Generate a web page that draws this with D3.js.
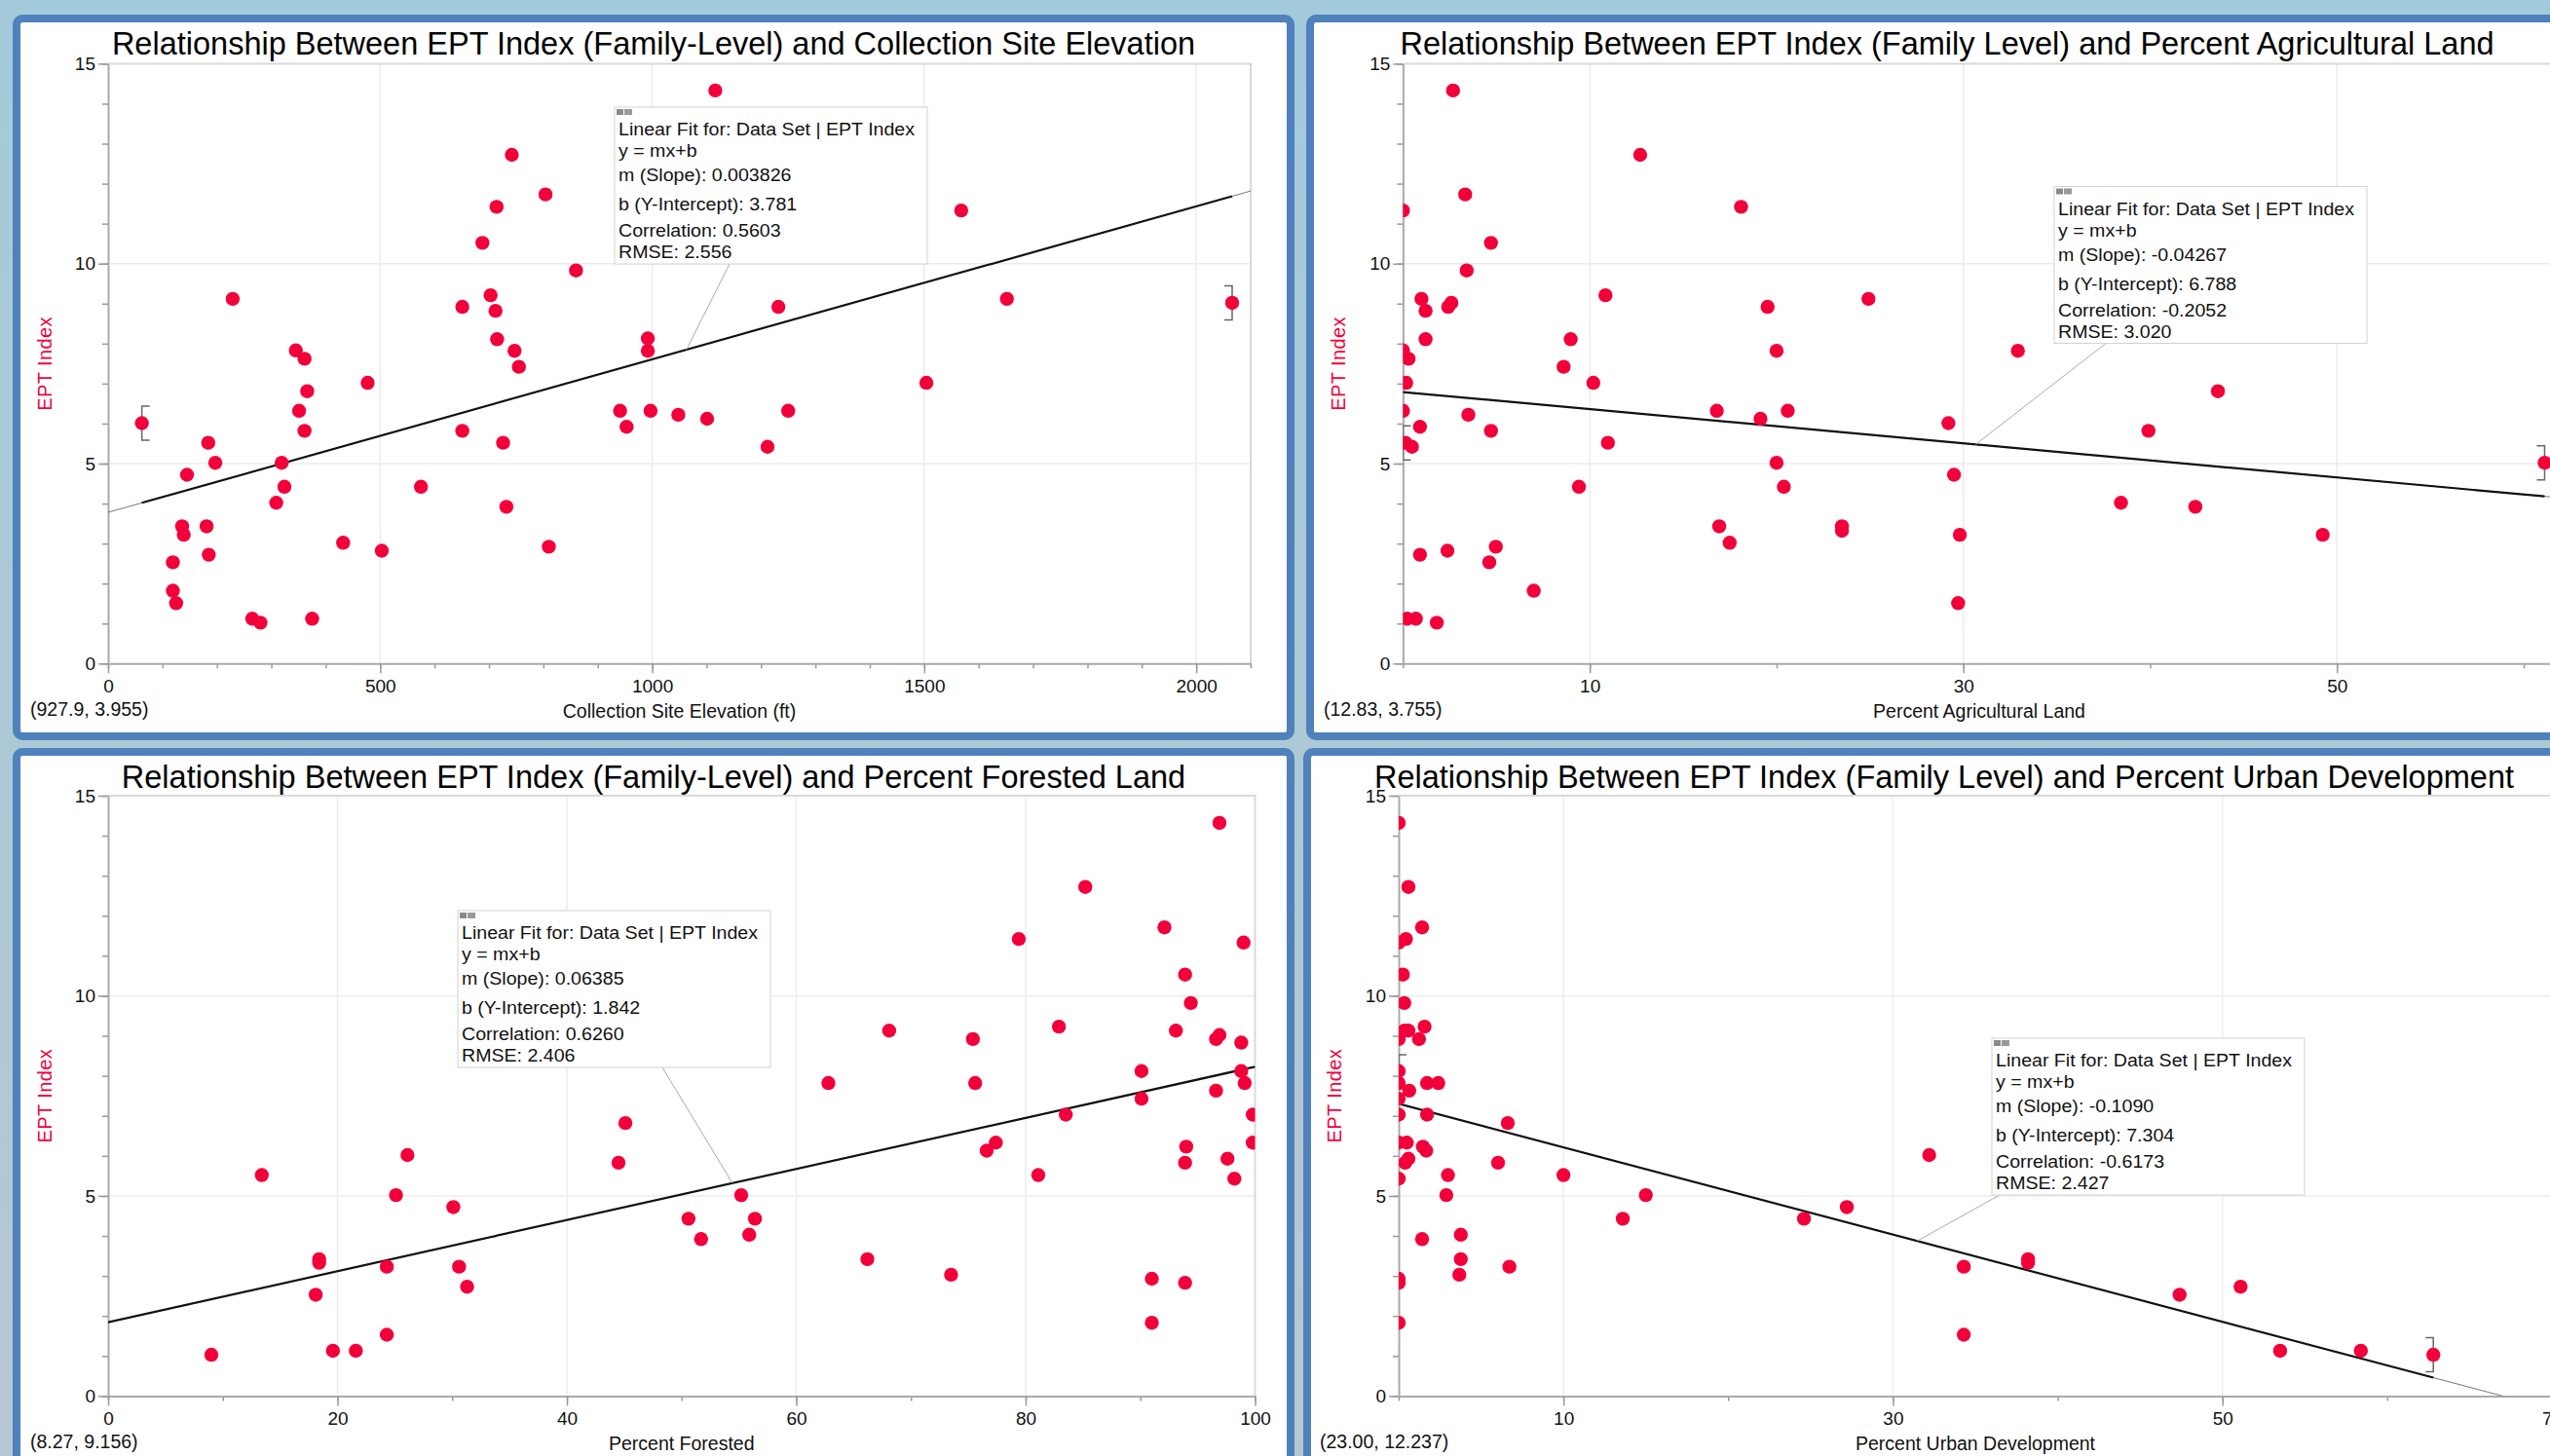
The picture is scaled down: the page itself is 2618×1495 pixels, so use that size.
<!DOCTYPE html>
<html>
<head>
<meta charset="utf-8">
<script src="https://cdn.jsdelivr.net/npm/d3@7"></script>
<style>
  html, body { margin: 0; padding: 0; overflow: hidden; }
  svg { display: block; font-family: "Liberation Sans", Arial, sans-serif; }
</style>
</head>
<body>
<div id="chart"></div>
<script>
/* DATA */
// [x, EPT index]
const elevation = [[1116,14.33],[742,12.72],[804,11.73],[714,11.42],[1568,11.33],[688,10.52],[860,9.83],[229,9.12],[1652,9.12],[2066,9.02],[703,9.21],[651,8.92],[712,8.82],[1232,8.92],[715,8.11],[992,8.13],[992,7.82],[747,7.82],[345,7.83],[361,7.62],[755,7.42],[477,7.02],[1504,7.02],[366,6.81],[941,6.32],[997,6.32],[1250,6.32],[351,6.32],[1048,6.22],[1101,6.12],[62,6.01],[953,5.92],[361,5.82],[651,5.82],[184,5.52],[726,5.52],[1212,5.42],[197,5.02],[319,5.02],[145,4.72],[324,4.42],[575,4.42],[309,4.02],[732,3.92],[136,3.43],[181,3.43],[139,3.22],[432,3.02],[503,2.82],[810,2.92],[185,2.72],[119,2.53],[119,1.82],[125,1.51],[265,1.12],[280,1.02],[375,1.12]];

const agricultural = [[2.68,14.33],[12.70,12.72],[3.33,11.73],[0,11.33],[18.10,11.42],[4.71,10.52],[3.41,9.83],[0.99,9.12],[10.84,9.21],[24.92,9.12],[2.59,9.02],[2.42,8.92],[1.21,8.82],[19.52,8.92],[1.21,8.11],[8.98,8.11],[0,7.83],[20.0,7.82],[32.92,7.82],[0.30,7.62],[8.60,7.42],[0.17,7.02],[10.19,7.02],[43.63,6.81],[0,6.32],[16.80,6.32],[20.60,6.32],[3.50,6.22],[19.14,6.12],[29.20,6.01],[0.91,5.92],[4.71,5.82],[39.91,5.82],[0.13,5.52],[10.97,5.52],[0.48,5.42],[20.0,5.02],[61.12,5.02],[29.50,4.72],[9.42,4.42],[20.39,4.42],[38.44,4.02],[42.42,3.92],[16.93,3.43],[23.50,3.43],[23.50,3.32],[17.49,3.02],[29.81,3.22],[49.24,3.22],[4.97,2.92],[2.38,2.82],[0.91,2.72],[4.62,2.53],[7.0,1.82],[29.72,1.51],[0.22,1.12],[0.69,1.12],[1.81,1.02]];

const forested = [[96.9,14.32],[85.2,12.72],[92.1,11.71],[79.4,11.42],[99.0,11.33],[93.9,10.53],[94.4,9.82],[68.1,9.13],[82.9,9.23],[93.1,9.13],[75.4,8.92],[96.6,8.92],[96.9,9.02],[98.8,8.83],[90.1,8.12],[98.8,8.12],[62.8,7.82],[75.6,7.82],[99.1,7.82],[96.6,7.63],[90.1,7.43],[45.1,6.82],[83.5,7.03],[99.8,7.03],[26.1,6.02],[77.4,6.33],[76.6,6.13],[99.8,6.33],[94.0,6.23],[44.5,5.83],[93.9,5.83],[97.6,5.93],[13.4,5.52],[81.1,5.52],[98.2,5.43],[25.1,5.02],[55.2,5.02],[30.1,4.72],[50.6,4.43],[56.4,4.43],[51.7,3.92],[55.9,4.03],[18.4,3.42],[18.4,3.33],[66.2,3.42],[24.3,3.23],[30.6,3.23],[73.5,3.03],[31.3,2.73],[91.0,2.93],[93.9,2.83],[18.1,2.53],[91.0,1.83],[24.3,1.53],[19.6,1.13],[21.6,1.13],[9.0,1.03]];

const urban = [[0,14.32],[0.59,12.72],[1.42,11.71],[0.44,11.42],[0,11.33],[0.25,10.53],[0.34,9.82],[0.34,9.13],[0.59,9.13],[1.57,9.23],[1.23,8.92],[0,8.92],[0,8.12],[1.72,7.82],[2.40,7.82],[0,7.82],[0.64,7.63],[0,7.43],[6.62,6.82],[1.72,7.03],[0,7.03],[32.2,6.02],[0.49,6.33],[0,6.33],[1.47,6.23],[1.67,6.13],[6.03,5.83],[0.39,5.83],[0.59,5.93],[2.99,5.52],[10.0,5.52],[0,5.43],[2.89,5.02],[15.0,5.02],[27.2,4.72],[13.6,4.43],[24.6,4.43],[1.42,3.92],[3.77,4.03],[3.77,3.42],[38.2,3.42],[38.2,3.33],[34.3,3.23],[6.72,3.23],[3.68,3.03],[0,2.93],[0,2.83],[51.1,2.73],[47.4,2.53],[0,1.83],[34.3,1.53],[53.5,1.13],[58.4,1.13],[62.8,1.03]];

const datasets = [elevation, agricultural, forested, urban];

const titles = [
  "Relationship Between EPT Index (Family-Level) and Collection Site Elevation",
  "Relationship Between EPT Index (Family Level) and Percent Agricultural Land",
  "Relationship Between EPT Index (Family-Level) and Percent Forested Land",
  "Relationship Between EPT Index (Family Level) and Percent Urban Development"
];
const xTitles = ["Collection Site Elevation (ft)", "Percent Agricultural Land", "Percent Forested", "Percent Urban Development"];
const yTitle = "EPT Index";
const readouts = ["(927.9, 3.955)", "(12.83, 3.755)", "(8.27, 9.156)", "(23.00, 12.237)"];

const slopes = [0.003826, -0.04267, 0.06385, -0.1090];
const intercepts = [3.781, 6.788, 1.842, 7.304];
const slopeText = ["0.003826", "-0.04267", "0.06385", "-0.1090"];
const interceptText = ["3.781", "6.788", "1.842", "7.304"];
const corrText = ["0.5603", "-0.2052", "0.6260", "-0.6173"];
const rmseText = ["2.556", "3.020", "2.406", "2.427"];
const fitRanges = [[62, 2066], [0, 61.12], [0, 100], [0, 62.8]];
const bracketPts = [[[62, 6.01], [2066, 9.02]], [[0, 5.52], [61.12, 5.02]], [], [[0, 8.1], [62.8, 1.03]]];
const leaderX = [1063, 30.66, 54.44, 31.47];

const xDomains = [[0, 2100], [0, 61.7], [0, 100], [0, 70]];
const yDomain = [0, 15];
const xLabelTicks = [[0, 500, 1000, 1500, 2000], [10, 30, 50], [0, 20, 40, 60, 80, 100], [10, 30, 50, 70]];
const xMinorStep = [100, 10, 10, 10];
const xGrid = [[500, 1000, 1500, 2000], [10, 30, 50], [20, 40, 60, 80], [10, 30, 50]];
const yLabelTicks = [0, 5, 10, 15];
const yGrid = [5, 10];

/* LAYOUT */
const width = 2618, height = 1495;
const PW = 1316, PH = 745;
const layout = [
  {px: 13,   py: 15,  l: 111,    r: 1284,   t: 65.4, b: 681.3,  box: [631, 110],    lead: 118, yLab: 46,   read: [31, 735]},
  {px: 1341, py: 15,  l: 1440.4, r: 2623.6, t: 65.4, b: 681.3,  box: [2109, 191.5], lead: 53,  yLab: 1374, read: [1359, 735]},
  {px: 13,   py: 768, l: 111,    r: 1288.5, t: 817,  b: 1433.4, box: [470, 935],    lead: 210, yLab: 46,   read: [31, 1487]},
  {px: 1338, py: 768, l: 1436,   r: 2620,   t: 817,  b: 1433.4, box: [2045, 1066],  lead: 8,   yLab: 1370, read: [1355, 1487]}
];
const boxW = 321, boxH = 161;
const boxLines = [29, 51, 76, 106, 133, 155];
const red = "#f2003a";

const svg = d3.select("#chart").append("svg")
  .attr("width", width)
  .attr("height", height);

const defs = svg.append("defs");
const grad = defs.append("linearGradient").attr("id", "bg")
  .attr("x1", 0).attr("y1", 0).attr("x2", 0).attr("y2", 1);
grad.append("stop").attr("offset", "0%").attr("stop-color", "#a3cada");
grad.append("stop").attr("offset", "100%").attr("stop-color", "#b7c7d1");

svg.append("rect").attr("width", width).attr("height", height).attr("fill", "url(#bg)");

datasets.forEach((data, i) => {
  const L = layout[i];
  const xScale = d3.scaleLinear().domain(xDomains[i]).range([L.l, L.r]);
  const yScale = d3.scaleLinear().domain(yDomain).range([L.b, L.t]);
  const g = svg.append("g");

  // panel
  g.append("rect")
    .attr("x", L.px + 4).attr("y", L.py + 4)
    .attr("width", PW - 8).attr("height", PH - 8)
    .attr("rx", 6)
    .attr("fill", "#fff")
    .attr("stroke", "#4f81bd")
    .attr("stroke-width", 8);

  defs.append("clipPath").attr("id", "clip" + i)
    .append("rect")
    .attr("x", L.l).attr("y", L.t)
    .attr("width", L.r - L.l).attr("height", L.b - L.t);

  // grid
  g.selectAll(".gx").data(xGrid[i]).join("line")
    .attr("x1", d => xScale(d)).attr("x2", d => xScale(d))
    .attr("y1", L.t).attr("y2", L.b)
    .attr("stroke", "#ececec").attr("stroke-width", 1.5);
  g.selectAll(".gy").data(yGrid).join("line")
    .attr("x1", L.l).attr("x2", L.r)
    .attr("y1", d => yScale(d)).attr("y2", d => yScale(d))
    .attr("stroke", "#ececec").attr("stroke-width", 1.5);

  // frame top + right
  g.append("path")
    .attr("d", `M${L.l},${yScale(15)}H${xScale(xDomains[i][1])}V${L.b}`)
    .attr("fill", "none").attr("stroke", "#d9d9d9").attr("stroke-width", 2);

  // axes
  const xMinor = d3.range(xDomains[i][0], xDomains[i][1] + 0.001, xMinorStep[i]);
  const yMinor = d3.range(0, 15.001, 1);

  const xmin = g.append("g").attr("transform", `translate(0,${L.b})`)
    .call(d3.axisBottom(xScale).tickValues(xMinor).tickSize(5).tickSizeOuter(0).tickFormat(""));
  const xmaj = g.append("g").attr("transform", `translate(0,${L.b})`)
    .call(d3.axisBottom(xScale).tickValues(xLabelTicks[i]).tickSize(10).tickSizeOuter(0)
      .tickPadding(6).tickFormat(d3.format("d")));
  const ymin = g.append("g").attr("transform", `translate(${L.l},0)`)
    .call(d3.axisLeft(yScale).tickValues(yMinor).tickSize(6).tickSizeOuter(0).tickFormat(""));
  const ymaj = g.append("g").attr("transform", `translate(${L.l},0)`)
    .call(d3.axisLeft(yScale).tickValues(yLabelTicks).tickSize(10).tickSizeOuter(0)
      .tickPadding(3).tickFormat(d3.format("d")));

  [xmin, ymin].forEach(a => a.select(".domain").remove());
  [xmin, xmaj, ymin, ymaj].forEach(a => {
    a.attr("font-family", null).attr("font-size", null);
    a.selectAll(".tick line").attr("stroke", "#999").attr("stroke-width", 1.5);
    a.selectAll(".tick text").attr("font-size", 19).attr("fill", "#111");
  });
  [xmaj, ymaj].forEach(a => a.select(".domain").attr("stroke", "#aaa").attr("stroke-width", 2));

  // fit line
  const m = slopes[i], b = intercepts[i];
  const line = d3.line().x(d => xScale(d[0])).y(d => yScale(d[1]));
  const plot = g.append("g").attr("clip-path", `url(#clip${i})`);
  const dom = xDomains[i];
  plot.append("path")
    .attr("d", line([[dom[0], m * dom[0] + b], [dom[1], m * dom[1] + b]]))
    .attr("stroke", "#777").attr("stroke-width", 1).attr("fill", "none");
  const fr = fitRanges[i];
  plot.append("path")
    .attr("d", line([[fr[0], m * fr[0] + b], [fr[1], m * fr[1] + b]]))
    .attr("stroke", "#111").attr("stroke-width", 2.2).attr("fill", "none");

  // range brackets
  plot.selectAll(".bracket").data(bracketPts[i]).join("path")
    .attr("d", (d, k) => {
      const bx = xScale(d[0]), by = yScale(d[1]), s = k === 0 ? 8 : -8;
      return `M${bx + s},${by - 17.5}H${bx}V${by + 17.5}H${bx + s}`;
    })
    .attr("fill", "none").attr("stroke", "#666").attr("stroke-width", 1.5);

  // points
  plot.selectAll(".dot").data(data).join("circle")
    .attr("cx", d => xScale(d[0]))
    .attr("cy", d => yScale(d[1]))
    .attr("r", 7.2)
    .attr("fill", red);

  // leader + box
  const [bxl, byt] = L.box;
  g.append("line")
    .attr("x1", bxl + L.lead).attr("y1", byt + boxH)
    .attr("x2", xScale(leaderX[i])).attr("y2", yScale(m * leaderX[i] + b))
    .attr("stroke", "#aaa").attr("stroke-width", 1);
  g.append("rect")
    .attr("x", bxl).attr("y", byt).attr("width", boxW).attr("height", boxH)
    .attr("fill", "#fff").attr("stroke", "#d2d2d2").attr("stroke-width", 1);
  g.append("rect").attr("x", bxl + 2).attr("y", byt + 2).attr("width", 7).attr("height", 6).attr("fill", "#8a8a8a");
  g.append("rect").attr("x", bxl + 10).attr("y", byt + 2).attr("width", 8).attr("height", 6).attr("fill", "#9a9a9a");

  const lines = [
    "Linear Fit for: Data Set | EPT Index",
    "y = mx+b",
    "m (Slope): " + slopeText[i],
    "b (Y-Intercept): " + interceptText[i],
    "Correlation: " + corrText[i],
    "RMSE: " + rmseText[i]
  ];
  g.selectAll(".fit").data(lines).join("text")
    .attr("transform", (d, k) => `translate(${bxl + 4},${byt + boxLines[k]}) scale(1.12,1)`)
    .attr("font-size", 17.5)
    .attr("fill", "#111")
    .text(d => d);

  // texts
  g.append("text")
    .attr("x", L.px + PW / 2).attr("y", L.py + 41)
    .attr("text-anchor", "middle")
    .attr("font-size", 32.5)
    .attr("fill", "#000")
    .text(titles[i]);

  g.append("text")
    .attr("x", (L.l + L.r) / 2).attr("y", L.b + 55.5)
    .attr("text-anchor", "middle")
    .attr("font-size", 19.5)
    .attr("fill", "#111")
    .text(xTitles[i]);

  g.append("text")
    .attr("transform", `translate(${L.yLab},${(L.t + L.b) / 2}) rotate(-90)`)
    .attr("text-anchor", "middle")
    .attr("dominant-baseline", "central")
    .attr("font-size", 20)
    .attr("letter-spacing", 0.4)
    .attr("fill", red)
    .text(yTitle);

  g.append("text")
    .attr("x", L.read[0]).attr("y", L.read[1])
    .attr("font-size", 19.5)
    .attr("fill", "#111")
    .text(readouts[i]);
});
</script>
</body>
</html>
